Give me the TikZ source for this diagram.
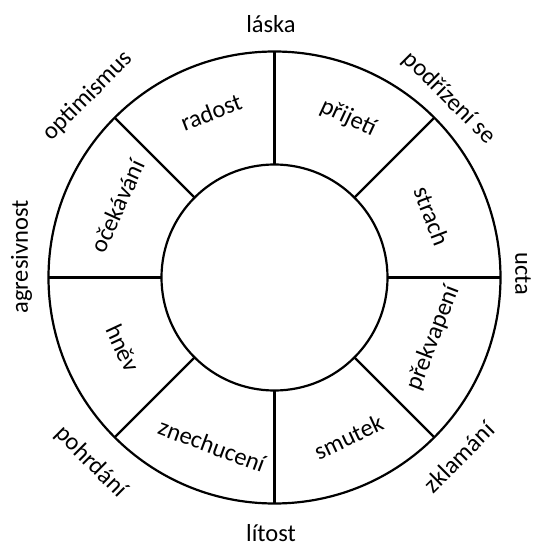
\documentclass[tikz,border=0pt]{standalone}
\usepackage{fontspec}
\setmainfont{Carlito}
\usepackage{xcolor}
\usetikzlibrary{positioning}
\definecolor{wheelblack}{RGB}{0, 0, 0}
\tikzset{
    ring/.style={draw=wheelblack, line width=2.2pt},
    spoke/.style={draw=wheelblack, line width=2.2pt},
    emotion/.style={inner sep=0pt, text=wheelblack, font=\fontsize{24.5}{29}\selectfont},
    dyad/.style={emotion}
}

\begin{document}
\begin{tikzpicture}[x=1pt, y=1pt]
        \useasboundingbox (-274.5,-268.5) rectangle (258.5,277.5);
        \coordinate (hub) at (0,0);
        % rings
        \draw[ring] (hub) circle (226);
        \draw[ring] (hub) circle (113);
        % spokes
        \draw[spoke] (0:113) -- (0:226);
        \draw[spoke] (45:113) -- (45:226);
        \draw[spoke] (90:113) -- (90:226);
        \draw[spoke] (135:113) -- (135:226);
        \draw[spoke] (180:113) -- (180:226);
        \draw[spoke] (225:113) -- (225:226);
        \draw[spoke] (270:113) -- (270:226);
        \draw[spoke] (315:113) -- (315:226);
        % basic emotions
        \node[emotion, rotate=-69] (strach) at (157.5,61.5) {strach};
        \node[emotion, rotate=-25] (prijeti) at (73.5,159.5) {přijetí};
        \node[emotion, rotate=21] (radost) at (-63.5,165.5) {radost};
        \node[emotion, rotate=65.5] (ocekavani) at (-157,71.5) {očekávání};
        \node[emotion, rotate=-65] (hnev) at (-151.5,-70.5) {hněv};
        \node[emotion, rotate=-20.4] (znechuceni) at (-62.5,-168) {znechucení};
        \node[emotion, rotate=25] (smutek) at (74,-159.5) {smutek};
        \node[emotion, rotate=69] (prekvapeni) at (159,-60.5) {překvapení};
        % dyads
        \node[dyad] (laska) at (-3.5,253.5) {láska};
        \node[dyad, rotate=-45] (podrizeni) at (174.5,179.5) {podřízení se};
        \node[dyad, rotate=-90] (ucta) at (248.5,3.5) {ucta};
        \node[dyad, rotate=45] (zklamani) at (184.5,-179.5) {zklamání};
        \node[dyad] (litost) at (-3.5,-256) {lítost};
        \node[dyad, rotate=-45] (pohrdani) at (-183.5,-184.5) {pohrdání};
        \node[dyad, rotate=90] (agresivnost) at (-253,20.5) {agresivnost};
        \node[dyad, rotate=45] (optimismus) at (-186.5,181.5) {optimismus};
\end{tikzpicture}
\end{document}
